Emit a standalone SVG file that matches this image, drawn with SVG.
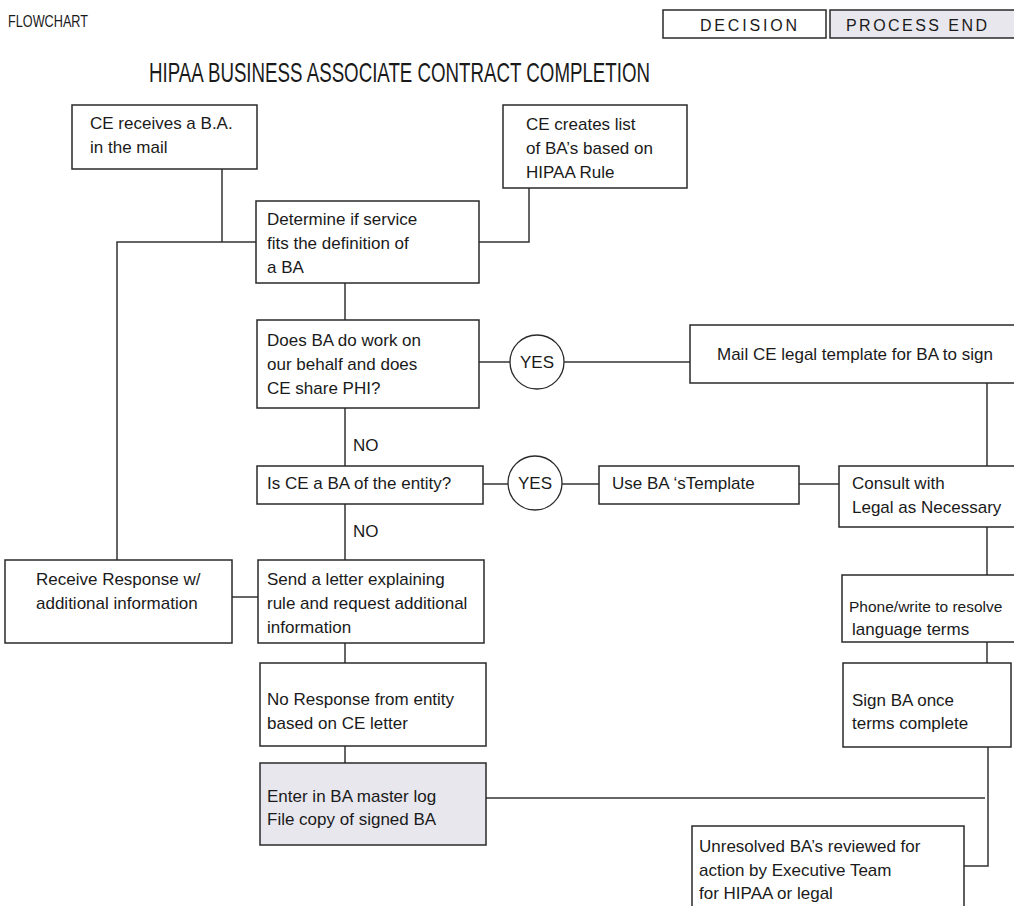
<svg xmlns="http://www.w3.org/2000/svg" width="1014" height="906" viewBox="0 0 1014 906">
<style>
  .box { fill: #ffffff; stroke: #2a2a2a; stroke-width: 1.5; }
  .end { fill: #e8e7ee; stroke: #2a2a2a; stroke-width: 1.5; }
  .circ { fill: #ffffff; stroke: #2a2a2a; stroke-width: 1.3; }
  .t { font-family: "Liberation Sans", Arial, sans-serif; font-size: 17px; fill: #1a1a1a; }
  .tc { font-family: "Liberation Sans", Arial, sans-serif; font-size: 17px; fill: #1a1a1a; text-anchor: middle; }
  .hdr { font-family: "Liberation Sans", Arial, sans-serif; font-size: 16px; fill: #1a1a1a; }
  .title { font-family: "Liberation Sans", Arial, sans-serif; font-size: 28px; fill: #1a1a1a; }
  .conn line, .conn polyline { stroke: #333333; stroke-width: 1.5; fill: none; }
</style>
<rect width="1014" height="906" fill="#ffffff"/>

<g id="header">
  <text class="hdr" x="8" y="27" style="font-size:17px" textLength="80" lengthAdjust="spacingAndGlyphs">FLOWCHART</text>
  <rect class="box" x="663" y="10" width="163" height="28"/>
  <text class="hdr" x="700" y="31" textLength="97" lengthAdjust="spacing">DECISION</text>
  <rect class="end" x="830" y="10" width="190" height="28"/>
  <text class="hdr" x="846" y="31" textLength="141" lengthAdjust="spacing">PROCESS END</text>
  <text class="title" x="149" y="82" textLength="501" lengthAdjust="spacingAndGlyphs">HIPAA BUSINESS ASSOCIATE CONTRACT COMPLETION</text>
</g>

<g id="connectors" class="conn">
  <line x1="222" y1="169" x2="222" y2="242"/>
  <polyline points="256,242 117,242 117,560"/>
  <polyline points="479,242 529,242 529,188"/>
  <line x1="345" y1="283" x2="345" y2="320"/>
  <line x1="479" y1="362" x2="510" y2="362"/>
  <line x1="564" y1="362" x2="690" y2="362"/>
  <line x1="987" y1="383" x2="987" y2="466"/>
  <line x1="345" y1="408" x2="345" y2="466"/>
  <line x1="483" y1="484" x2="508" y2="484"/>
  <line x1="562" y1="484" x2="599" y2="484"/>
  <line x1="799" y1="484" x2="839" y2="484"/>
  <line x1="345" y1="504" x2="345" y2="560"/>
  <line x1="987" y1="527" x2="987" y2="575"/>
  <line x1="232" y1="597" x2="258" y2="597"/>
  <line x1="345" y1="643" x2="345" y2="663"/>
  <line x1="987" y1="642" x2="987" y2="663"/>
  <line x1="345" y1="746" x2="345" y2="767"/>
  <line x1="486" y1="798" x2="985" y2="798"/>
  <polyline points="988,747 988,866 964,866"/>
</g>

<g id="label-no-1"><text class="t" x="353" y="451">NO</text></g>
<g id="label-no-2"><text class="t" x="353" y="537">NO</text></g>

<g id="n-receive-mail">
  <rect class="box" x="72" y="105" width="185" height="64"/>
  <text class="t" x="90" y="129">CE receives a B.A.</text>
  <text class="t" x="90" y="153">in the mail</text>
</g>

<g id="n-creates-list">
  <rect class="box" x="503" y="105" width="184" height="83"/>
  <text class="t" x="526" y="130">CE creates list</text>
  <text class="t" x="526" y="154">of BA’s based on</text>
  <text class="t" x="526" y="178">HIPAA Rule</text>
</g>

<g id="n-determine">
  <rect class="box" x="256" y="201" width="223" height="82"/>
  <text class="t" x="267" y="225">Determine if service</text>
  <text class="t" x="267" y="249">fits the definition of</text>
  <text class="t" x="267" y="273">a BA</text>
</g>

<g id="n-does-ba">
  <rect class="box" x="257" y="320" width="222" height="88"/>
  <text class="t" x="267" y="346">Does BA do work on</text>
  <text class="t" x="267" y="370">our behalf and does</text>
  <text class="t" x="267" y="394">CE share PHI?</text>
</g>

<g id="n-yes-1">
  <circle class="circ" cx="537" cy="362" r="27"/>
  <text class="tc" x="537" y="368">YES</text>
</g>

<g id="n-mail-template">
  <rect class="box" x="690" y="325" width="330" height="58"/>
  <text class="t" x="717" y="360">Mail CE legal template for BA to sign</text>
</g>

<g id="n-is-ce">
  <rect class="box" x="257" y="466" width="226" height="38"/>
  <text class="t" x="267" y="489">Is CE a BA of the entity?</text>
</g>

<g id="n-yes-2">
  <circle class="circ" cx="535" cy="483" r="27"/>
  <text class="tc" x="535" y="489">YES</text>
</g>

<g id="n-use-template">
  <rect class="box" x="599" y="466" width="200" height="38"/>
  <text class="t" x="612" y="489">Use BA ‘sTemplate</text>
</g>

<g id="n-consult">
  <rect class="box" x="839" y="466" width="181" height="61"/>
  <text class="t" x="852" y="489">Consult with</text>
  <text class="t" x="852" y="513">Legal as Necessary</text>
</g>

<g id="n-receive-response">
  <rect class="box" x="5" y="560" width="227" height="83"/>
  <text class="t" x="36" y="585">Receive Response w/</text>
  <text class="t" x="36" y="609">additional information</text>
</g>

<g id="n-send-letter">
  <rect class="box" x="258" y="560" width="226" height="83"/>
  <text class="t" x="267" y="585">Send a letter explaining</text>
  <text class="t" x="267" y="609">rule and request additional</text>
  <text class="t" x="267" y="633">information</text>
</g>

<g id="n-phone">
  <rect class="box" x="842" y="575" width="178" height="67"/>
  <text class="t" x="849" y="612" style="font-size:15.5px">Phone/write to resolve</text>
  <text class="t" x="852" y="635">language terms</text>
</g>

<g id="n-no-response">
  <rect class="box" x="260" y="663" width="226" height="83"/>
  <text class="t" x="267" y="705">No Response from entity</text>
  <text class="t" x="267" y="729">based on CE letter</text>
</g>

<g id="n-sign">
  <rect class="box" x="843" y="663" width="168" height="84"/>
  <text class="t" x="852" y="706">Sign BA once</text>
  <text class="t" x="852" y="729">terms complete</text>
</g>

<g id="n-enter-log">
  <rect class="end" x="260" y="763" width="226" height="82"/>
  <text class="t" x="267" y="802">Enter in BA master log</text>
  <text class="t" x="267" y="825">File copy of signed BA</text>
</g>

<g id="n-unresolved">
  <rect class="box" x="692" y="826" width="272" height="100"/>
  <text class="t" x="699" y="852">Unresolved BA’s reviewed for</text>
  <text class="t" x="699" y="876">action by Executive Team</text>
  <text class="t" x="699" y="899">for HIPAA or legal</text>
</g>
</svg>
